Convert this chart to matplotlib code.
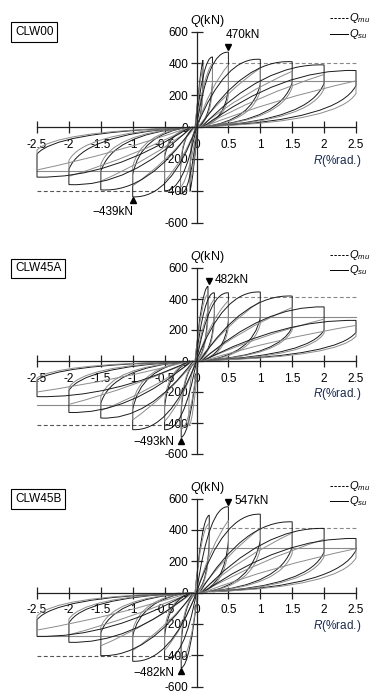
import matplotlib
matplotlib.use('Agg')
import matplotlib.pyplot as plt
from matplotlib.path import Path
from matplotlib.patches import PathPatch

plt.rcParams['font.family'] = ['Liberation Sans', 'DejaVu Sans']
plt.rcParams['mathtext.fontset'] = 'custom'
plt.rcParams['mathtext.rm'] = 'Liberation Sans'
plt.rcParams['mathtext.it'] = 'Liberation Sans:italic'
plt.rcParams['axes.unicode_minus'] = False

# ---- data ----
names = ['CLW00', 'CLW45A', 'CLW45B']
x_ticks = [-2.5, -2, -1.5, -1, -0.5, 0, 0.5, 1, 1.5, 2, 2.5]
x_labels = ['-2.5', '-2', '-1.5', '-1', '-0.5', '0', '0.5', '1', '1.5', '2', '2.5']
y_ticks = [-600, -400, -200, 0, 200, 400, 600]
y_labels = ['-600', '-400', '-200', '0', '200', '400', '600']

qmu_pos = [405, 412, 409]
qmu_neg = [-400, -410, -403]
qsu_pos = [288, 285, 282]
qsu_neg = [-278, -283, -276]

peak_pos = [(0.5, 470), (0.19, 482), (0.5, 547)]
peak_neg = [(-1.0, -439), (-0.24, -493), (-0.24, -482)]

# half loops: start x,y | ctrl x,y | peak R, peak Q | Q after unloading drop | ctrl x,y | end x,y | gray?
clw00 = [
    [-0.03, -40, 0.05, 330, 0.10, 420, 300, 0.09, 40, 0.00, 0, 0],
    [-0.03, -30, 0.05, 300, 0.10, 380, 250, 0.09, 40, 0.00, 0, 1],
    [-0.02, -20, 0.10, 440, 0.25, 440, 280, 0.22, 50, 0.02, 0, 0],
    [-0.02, -20, 0.11, 330, 0.25, 400, 240, 0.22, 40, 0.02, 0, 1],
    [0.00, 0, 0.18, 480, 0.50, 470, 240, 0.44, 30, 0.05, 0, 0],
    [0.00, 0, 0.22, 260, 0.50, 390, 200, 0.44, 30, 0.05, 0, 1],
    [0.00, 0, 0.45, 445, 1.00, 425, 270, 0.88, 40, 0.10, 0, 0],
    [0.02, 0, 0.48, 230, 1.00, 370, 230, 0.88, 35, 0.10, 0, 1],
    [0.05, 0, 0.75, 430, 1.50, 410, 280, 1.32, 45, 0.15, 5, 0],
    [0.05, 0, 0.72, 215, 1.50, 350, 250, 1.32, 40, 0.15, 5, 1],
    [0.08, 0, 1.05, 405, 2.00, 390, 275, 1.78, 45, 0.20, 5, 0],
    [0.08, 0, 0.98, 200, 2.00, 330, 240, 1.78, 40, 0.20, 5, 1],
    [0.10, 0, 1.35, 370, 2.50, 355, 260, 2.22, 45, 0.25, 5, 0],
    [0.10, 0, 1.20, 175, 2.50, 290, 210, 2.22, 35, 0.25, 5, 1],
    [0.03, 40, -0.05, -320, -0.10, -400, -280, -0.09, -40, 0.00, 0, 0],
    [0.03, 30, -0.05, -280, -0.10, -350, -230, -0.09, -40, 0.00, 0, 1],
    [0.02, 20, -0.10, -430, -0.25, -420, -260, -0.22, -40, -0.02, 0, 0],
    [0.02, 20, -0.11, -320, -0.25, -380, -230, -0.22, -40, -0.02, 0, 1],
    [0.00, 0, -0.20, -410, -0.50, -400, -190, -0.44, -30, -0.05, 0, 0],
    [0.00, 0, -0.22, -220, -0.50, -340, -170, -0.44, -30, -0.05, 0, 1],
    [0.00, 0, -0.40, -450, -1.00, -439, -300, -0.88, -40, -0.10, 0, 0],
    [-0.02, 0, -0.48, -225, -1.00, -370, -250, -0.88, -35, -0.10, 0, 1],
    [-0.05, 0, -0.75, -415, -1.50, -395, -280, -1.32, -45, -0.15, -5, 0],
    [-0.05, 0, -0.72, -205, -1.50, -340, -235, -1.32, -40, -0.15, -5, 1],
    [-0.08, 0, -1.05, -380, -2.00, -362, -265, -1.78, -45, -0.20, -5, 0],
    [-0.08, 0, -0.98, -185, -2.00, -310, -210, -1.78, -40, -0.20, -5, 1],
    [-0.10, 0, -1.35, -325, -2.50, -315, -170, -2.22, -35, -0.25, -5, 0],
    [-0.10, 0, -1.20, -160, -2.50, -270, -145, -2.22, -30, -0.25, -5, 1],
]

clw45a = [
    [-0.03, -40, 0.08, 470, 0.18, 482, 330, 0.16, 60, 0.00, 0, 0],
    [-0.03, -30, 0.08, 420, 0.18, 430, 290, 0.16, 50, 0.00, 0, 1],
    [-0.02, -20, 0.12, 450, 0.28, 440, 300, 0.25, 50, 0.02, 0, 0],
    [-0.02, -20, 0.13, 330, 0.28, 400, 260, 0.25, 45, 0.02, 0, 1],
    [0.00, 0, 0.20, 450, 0.50, 440, 260, 0.44, 35, 0.05, 0, 0],
    [0.00, 0, 0.22, 270, 0.50, 390, 220, 0.44, 30, 0.05, 0, 1],
    [0.00, 0, 0.42, 460, 1.00, 445, 280, 0.88, 40, 0.10, 0, 0],
    [0.02, 0, 0.48, 240, 1.00, 385, 240, 0.88, 35, 0.10, 0, 1],
    [0.05, 0, 0.75, 435, 1.50, 419, 220, 1.32, 40, 0.15, 5, 0],
    [0.05, 0, 0.72, 210, 1.50, 345, 200, 1.32, 35, 0.15, 5, 1],
    [0.08, 0, 1.05, 360, 2.00, 349, 200, 1.78, 40, 0.20, 5, 0],
    [0.08, 0, 0.98, 165, 2.00, 270, 180, 1.78, 30, 0.20, 5, 1],
    [0.10, 0, 1.35, 270, 2.50, 262, 185, 2.22, 35, 0.25, 5, 0],
    [0.10, 0, 1.20, 140, 2.50, 230, 160, 2.22, 28, 0.25, 5, 1],
    [0.03, 40, -0.10, -480, -0.24, -493, -330, -0.20, -60, 0.00, 0, 0],
    [0.03, 30, -0.10, -430, -0.24, -440, -300, -0.20, -50, 0.00, 0, 1],
    [0.03, 30, -0.05, -400, -0.12, -420, -280, -0.10, -50, 0.00, 0, 1],
    [0.00, 0, -0.20, -455, -0.50, -443, -300, -0.44, -35, -0.05, 0, 0],
    [0.00, 0, -0.22, -260, -0.50, -390, -260, -0.44, -30, -0.05, 0, 1],
    [0.00, 0, -0.42, -455, -1.00, -443, -315, -0.88, -40, -0.10, 0, 0],
    [-0.02, 0, -0.48, -230, -1.00, -380, -270, -0.88, -35, -0.10, 0, 1],
    [-0.05, 0, -0.75, -385, -1.50, -368, -272, -1.32, -40, -0.15, -5, 0],
    [-0.05, 0, -0.72, -195, -1.50, -320, -230, -1.32, -35, -0.15, -5, 1],
    [-0.08, 0, -1.05, -345, -2.00, -332, -190, -1.78, -40, -0.20, -5, 0],
    [-0.08, 0, -0.98, -170, -2.00, -280, -170, -1.78, -30, -0.20, -5, 1],
    [-0.10, 0, -1.35, -240, -2.50, -230, -125, -2.22, -28, -0.25, -5, 0],
    [-0.10, 0, -1.20, -120, -2.50, -200, -110, -2.22, -22, -0.25, -5, 1],
]

clw45b = [
    [-0.03, -40, 0.08, 480, 0.20, 494, 330, 0.18, 60, 0.00, 0, 0],
    [-0.03, -30, 0.08, 430, 0.20, 440, 290, 0.18, 50, 0.00, 0, 1],
    [0.00, 0, 0.20, 560, 0.50, 547, 330, 0.44, 45, 0.05, 0, 0],
    [0.00, 0, 0.22, 300, 0.50, 460, 280, 0.44, 35, 0.05, 0, 1],
    [0.00, 0, 0.42, 510, 1.00, 500, 335, 0.88, 45, 0.10, 0, 0],
    [0.02, 0, 0.48, 250, 1.00, 410, 280, 0.88, 40, 0.10, 0, 1],
    [0.05, 0, 0.75, 465, 1.50, 451, 292, 1.32, 45, 0.15, 5, 0],
    [0.05, 0, 0.72, 230, 1.50, 380, 250, 1.32, 40, 0.15, 5, 1],
    [0.08, 0, 1.05, 420, 2.00, 409, 260, 1.78, 40, 0.20, 5, 0],
    [0.08, 0, 0.98, 205, 2.00, 340, 230, 1.78, 35, 0.20, 5, 1],
    [0.10, 0, 1.35, 355, 2.50, 345, 270, 2.22, 40, 0.25, 5, 0],
    [0.10, 0, 1.20, 170, 2.50, 280, 220, 2.22, 35, 0.25, 5, 1],
    [0.03, 40, -0.10, -470, -0.24, -482, -330, -0.20, -60, 0.00, 0, 0],
    [0.03, 30, -0.10, -420, -0.24, -430, -290, -0.20, -50, 0.00, 0, 1],
    [0.00, 0, -0.20, -440, -0.50, -428, -280, -0.44, -35, -0.05, 0, 0],
    [0.00, 0, -0.22, -240, -0.50, -370, -240, -0.44, -30, -0.05, 0, 1],
    [0.00, 0, -0.42, -450, -1.00, -439, -280, -0.88, -40, -0.10, 0, 0],
    [-0.02, 0, -0.48, -225, -1.00, -370, -240, -0.88, -35, -0.10, 0, 1],
    [-0.05, 0, -0.75, -415, -1.50, -403, -258, -1.32, -40, -0.15, -5, 0],
    [-0.05, 0, -0.72, -205, -1.50, -340, -220, -1.32, -35, -0.15, -5, 1],
    [-0.08, 0, -1.05, -330, -2.00, -318, -195, -1.78, -35, -0.20, -5, 0],
    [-0.08, 0, -0.98, -160, -2.00, -270, -170, -1.78, -30, -0.20, -5, 1],
    [-0.10, 0, -1.35, -290, -2.50, -280, -174, -2.22, -30, -0.25, -5, 0],
    [-0.10, 0, -1.20, -145, -2.50, -240, -150, -2.22, -25, -0.25, -5, 1],
]
loops = [clw00, clw45a, clw45b]


def draw_loops(ax, rows):
    for sx, sy, c1x, c1y, rp, qp, qd, c2x, c2y, ex, ey, g in rows:
        verts = [(sx, sy), (c1x, c1y), (rp, qp), (rp, qd), (c2x, c2y), (ex, ey)]
        codes = [Path.MOVETO, Path.CURVE3, Path.CURVE3, Path.LINETO, Path.CURVE3, Path.CURVE3]
        col = '#8c8c8c' if g else '#1a1a1a'
        ax.add_patch(PathPatch(Path(verts, codes), fill=False, ec=col, lw=0.7, zorder=2))


W, H = 377, 692
fig = plt.figure(figsize=(W / 100, H / 100), dpi=100)
# (pixel row of Q=600, pixel height of the +-600 span)
panel_px = [(31.5, 191), (268, 186), (498.5, 188)]
fs = 8.5

for i in range(3):
    top, hpx = panel_px[i]
    left = 37 - 0.1 * 63.8
    ax = fig.add_axes([left / W, 1 - (top + hpx) / H, 5.2 * 63.8 / W, hpx / H])
    ax.set_facecolor('none')
    ax.set_xlim(-2.6, 2.6)
    ax.set_ylim(-600, 600)
    for s in ['top', 'right']:
        ax.spines[s].set_visible(False)
    ax.spines['left'].set_position(('data', 0))
    ax.spines['bottom'].set_position(('data', 0))
    ax.spines['left'].set_bounds(-600, 600)
    ax.spines['bottom'].set_bounds(-2.5, 2.5)
    for s in ['left', 'bottom']:
        ax.spines[s].set_linewidth(0.9)
        ax.spines[s].set_color('#222222')
    ax.set_xticks(x_ticks)
    ax.set_xticklabels(x_labels)
    ax.set_yticks(y_ticks)
    ax.set_yticklabels(y_labels)
    ax.tick_params(axis='x', direction='inout', length=9, width=0.9, pad=4, labelsize=fs, color='#222222')
    ax.tick_params(axis='y', direction='inout', length=8, width=0.9, pad=2, labelsize=fs, color='#222222')

    draw_loops(ax, loops[i])

    # Qmu / Qsu reference lines
    ax.plot([0.05, 2.5], [qmu_pos[i], qmu_pos[i]], color='#888888', lw=0.8, dashes=(3.5, 2.2), zorder=1.8)
    ax.plot([-2.5, -0.1], [qmu_neg[i], qmu_neg[i]], color='#555555', lw=0.8, dashes=(3.5, 2.2), zorder=1.8)
    ax.plot([0, 2.5], [qsu_pos[i], qsu_pos[i]], color='#8a8a8a', lw=0.8, zorder=1.8)
    ax.plot([-2.5, 0], [qsu_neg[i], qsu_neg[i]], color='#8a8a8a', lw=0.8, zorder=1.8)

    # axis titles
    ax.text(-0.1, 668, r'$Q$(kN)', fontsize=fs + 0.5, ha='left', va='center')
    ax.text(1.82, -215, r'$R$(%rad.)', fontsize=fs, ha='left', va='center', color='#1a2a4a')

    # specimen name
    ax.text(-2.845, 597, names[i], fontsize=fs, ha='left', va='center',
            bbox=dict(boxstyle='square,pad=0.3', fc='white', ec='black', lw=0.8))

    # legend
    ax.plot([2.10, 2.37], [682, 682], color='black', lw=0.7, dashes=(2.5, 1.5), clip_on=False)
    ax.text(2.39, 682, r'$Q_{mu}$', fontsize=8, ha='left', va='center')
    ax.plot([2.10, 2.37], [585, 585], color='black', lw=0.7, clip_on=False)
    ax.text(2.39, 585, r'$Q_{su}$', fontsize=8, ha='left', va='center')

    # peak markers
    rp, qp = peak_pos[i]
    rn, qn = peak_neg[i]
    ax.plot([rp], [qp + 32], marker='v', color='black', ms=4.5, clip_on=False)
    ax.plot([rn], [qn - 22], marker='^', color='black', ms=4.5, clip_on=False)
    if i == 0:
        ax.text(rp + 0.23, qp + 108, '%dkN' % qp, fontsize=fs, ha='center', va='center')
        ax.text(rn - 0.31, qn - 95, '\u2212%dkN' % -qn, fontsize=fs, ha='center', va='center')
    else:
        ax.text(rp + 0.09, qp + 40, '%dkN' % qp, fontsize=fs, ha='left', va='center')
        ax.text(rn - 0.1, qn - 30, '\u2212%dkN' % -qn, fontsize=fs, ha='right', va='center')

fig.savefig('out.png', dpi=100)
